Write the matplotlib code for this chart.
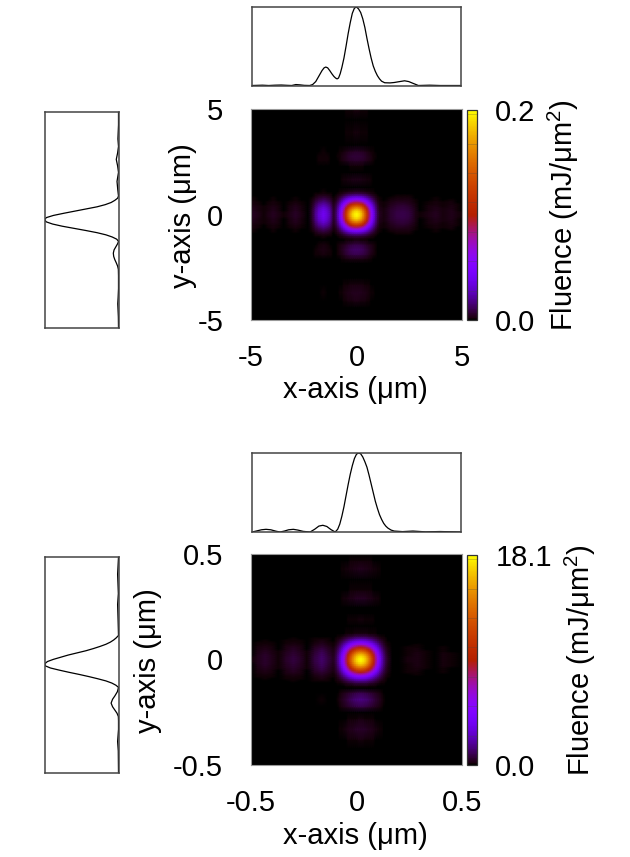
import numpy as np
import matplotlib
matplotlib.use("Agg")
import matplotlib.pyplot as plt

plt.rcParams['font.family'] = ['Liberation Sans', 'DejaVu Sans']
plt.rcParams['mathtext.fontset'] = 'custom'
plt.rcParams['mathtext.rm'] = 'Liberation Sans'
plt.rcParams['mathtext.default'] = 'regular'
W, H = 630, 857
FS_TICK = 21
FS_LAB = 21
FRAME = '#444444'

# ---- panel A (range +-5 um): line profiles
a_line_x = [-5,-4.5,-4.2,-3.9,-3.6,-3.3,-3.1,-2.9,-2.7,-2.5,-2.24,-2.1,-1.95,-1.8,-1.65,-1.55,-1.47,-1.38,-1.28,-1.18,-1.08,-1,-0.93,-0.86,-0.78,-0.7,-0.6,-0.5,-0.4,-0.3,-0.2,-0.1,0,0.1,0.2,0.3,0.4,0.5,0.6,0.7,0.8,0.9,1.0,1.1,1.2,1.35,1.6,1.8,2.0,2.3,2.5,2.7,2.96,3.5,4,5]
a_line_xv = [0,0.004,0,0.004,0.006,0.002,0,0.012,0.008,0.002,0,0.012,0.05,0.12,0.19,0.225,0.235,0.225,0.19,0.15,0.115,0.095,0.084,0.095,0.15,0.23,0.35,0.5,0.66,0.8,0.92,0.985,1.0,0.975,0.93,0.85,0.74,0.6,0.47,0.35,0.25,0.18,0.125,0.085,0.055,0.035,0.033,0.038,0.047,0.06,0.05,0.028,0,0.004,0,0]
a_line_y = [-5,-4.5,-4.2,-3.9,-3.6,-3.2,-2.6,-2.3,-2.15,-2.0,-1.85,-1.7,-1.55,-1.4,-1.25,-1.1,-1.0,-0.9,-0.8,-0.7,-0.6,-0.5,-0.4,-0.3,-0.2,-0.1,0,0.1,0.2,0.3,0.4,0.5,0.6,0.7,0.8,0.9,1.0,1.1,1.4,1.78,2.2,2.5,2.8,3.1,3.4,3.75,4.4,5]
a_line_yv = [0,0.002,0.006,0.01,0.005,0,0,0.002,0.012,0.03,0.05,0.065,0.07,0.06,0.035,0.01,0,0.025,0.085,0.17,0.29,0.44,0.6,0.76,0.89,0.975,1.0,0.975,0.88,0.74,0.59,0.44,0.29,0.18,0.1,0.05,0.012,0,0.01,0.02,0,0.012,0.03,0.012,0,0.008,0,0]

# panel A: heat-map profiles
a_heat_x = [-5,-4.9,-4.6,-4.4,-4.2,-3.95,-3.7,-3.45,-3.2,-2.9,-2.6,-2.3,-2.1,-1.95,-1.8,-1.57,-1.35,-1.2,-1.1,-1,-0.9,-0.8,-0.7,-0.6,-0.5,-0.4,-0.3,-0.2,-0.1,0,0.1,0.2,0.3,0.4,0.5,0.6,0.7,0.8,0.9,1,1.1,1.3,1.6,1.9,2.2,2.5,2.8,3,3.4,3.75,4.1,4.5,4.8,5]
a_heat_xv = [0.01,0.02,0.012,0.006,0.012,0.02,0.012,0.004,0.012,0.024,0.012,0.002,0.03,0.09,0.15,0.2,0.15,0.09,0.03,0.05,0.11,0.2,0.31,0.44,0.58,0.72,0.84,0.93,0.98,1.0,0.98,0.93,0.84,0.72,0.58,0.44,0.31,0.2,0.11,0.05,0.02,0.01,0.03,0.045,0.05,0.04,0.015,0.004,0.012,0.02,0.01,0.018,0.008,0.004]
a_heat_y = [-5,-4.4,-4.1,-3.7,-3.3,-3,-2.3,-2.1,-1.9,-1.66,-1.4,-1.2,-1.1,-1,-0.9,-0.8,-0.7,-0.6,-0.5,-0.4,-0.3,-0.2,-0.1,0,0.1,0.2,0.3,0.4,0.5,0.6,0.7,0.8,0.9,1,1.1,1.3,1.66,2,2.3,2.55,2.77,3,3.3,3.9,4.5,4.9,5]
a_heat_yv = [0,0,0.012,0.022,0.01,0,0,0.015,0.05,0.07,0.04,0.008,0.02,0.05,0.11,0.2,0.31,0.44,0.58,0.72,0.84,0.93,0.98,1.0,0.98,0.93,0.84,0.72,0.58,0.44,0.31,0.2,0.11,0.05,0.02,0.0,0.018,0.0,0.005,0.028,0.038,0.025,0.0,0.008,0.0,0.008,0.004]

# ---- panel B (range +-0.5 um): line profiles
b_line_x = [-0.5,-0.48,-0.455,-0.433,-0.41,-0.385,-0.366,-0.345,-0.325,-0.302,-0.28,-0.255,-0.222,-0.2,-0.18,-0.161,-0.142,-0.122,-0.102,-0.09,-0.08,-0.07,-0.06,-0.05,-0.04,-0.03,-0.02,-0.01,0,0.01,0.02,0.03,0.04,0.05,0.06,0.07,0.08,0.09,0.1,0.11,0.12,0.13,0.14,0.15,0.165,0.18,0.22,0.27,0.33,0.4,0.5]
b_line_xv = [0,0.012,0.028,0.034,0.028,0.01,0,0.012,0.028,0.034,0.024,0.008,0,0.035,0.075,0.085,0.07,0.03,0,0.035,0.1,0.2,0.32,0.46,0.6,0.73,0.84,0.93,0.985,1.0,0.99,0.95,0.89,0.82,0.72,0.61,0.5,0.39,0.3,0.22,0.16,0.11,0.075,0.05,0.025,0.012,0.005,0.012,0.002,0.006,0]
b_line_y = [-0.5,-0.4,-0.356,-0.3,-0.26,-0.24,-0.225,-0.21,-0.195,-0.178,-0.16,-0.145,-0.125,-0.105,-0.095,-0.085,-0.075,-0.065,-0.055,-0.045,-0.035,-0.025,-0.015,-0.005,0.005,0.015,0.025,0.035,0.045,0.055,0.065,0.075,0.085,0.095,0.105,0.115,0.125,0.136,0.2,0.28,0.33,0.42,0.5]
b_line_yv = [0,0.003,0.012,0,0,0.002,0.02,0.05,0.08,0.1,0.08,0.05,0.015,0,0.035,0.09,0.17,0.28,0.4,0.53,0.67,0.8,0.92,0.99,0.995,0.96,0.88,0.78,0.68,0.56,0.44,0.34,0.25,0.17,0.11,0.065,0.03,0,0.005,0.012,0.002,0.012,0]

# panel B: heat-map profiles
b_heat_x = [-0.5,-0.47,-0.433,-0.4,-0.37,-0.335,-0.3,-0.265,-0.235,-0.2,-0.165,-0.135,-0.11,-0.1,-0.09,-0.08,-0.07,-0.06,-0.05,-0.04,-0.03,-0.02,-0.01,0,0.01,0.02,0.03,0.04,0.05,0.06,0.07,0.08,0.09,0.1,0.11,0.12,0.13,0.14,0.15,0.17,0.2,0.24,0.286,0.33,0.37,0.41,0.45,0.5]
b_heat_xv = [0.004,0.018,0.03,0.018,0.006,0.025,0.04,0.025,0.006,0.04,0.07,0.04,0.02,0.04,0.08,0.14,0.22,0.32,0.43,0.55,0.67,0.78,0.87,0.94,0.98,1.0,0.98,0.94,0.87,0.78,0.67,0.55,0.43,0.32,0.22,0.14,0.08,0.04,0.02,0.003,0.002,0.008,0.015,0.006,0.003,0.01,0.005,0.0]
b_heat_y = [-0.5,-0.42,-0.38,-0.33,-0.28,-0.25,-0.225,-0.19,-0.155,-0.135,-0.125,-0.11,-0.1,-0.09,-0.08,-0.07,-0.06,-0.05,-0.04,-0.03,-0.02,-0.01,0,0.01,0.02,0.03,0.04,0.05,0.06,0.07,0.08,0.09,0.1,0.11,0.125,0.16,0.19,0.22,0.25,0.29,0.33,0.38,0.43,0.47,0.5]
b_heat_yv = [0,0,0.008,0.03,0.008,0.0,0.04,0.09,0.04,0.0,0.01,0.05,0.1,0.17,0.26,0.37,0.49,0.62,0.74,0.85,0.93,0.98,1.0,0.98,0.93,0.85,0.74,0.62,0.49,0.37,0.26,0.17,0.1,0.05,0.01,0.0,0.008,0.0,0.0,0.025,0.006,0.0,0.02,0.006,0.0]

a_ticks = [-5, 0, 5]
a_ticklabels = ['-5', '0', '5']
b_ticks = [-0.5, 0, 0.5]
b_ticklabels = ['-0.5', '0', '0.5']
a_max, b_max = 0.2, 18.1
a_max_label, b_max_label = '0.2', '18.1'
cbar_step_frac = 0.14


def axpx(fig, x0, y0, x1, y1):
    return fig.add_axes([x0 / W, 1 - y1 / H, (x1 - x0) / W, (y1 - y0) / H])


def frame(ax, color=FRAME, lw=1.1):
    for s in ax.spines.values():
        s.set_color(color)
        s.set_linewidth(lw)


def panel(fig, off, top_box, rng, lx, lxv, ly, lyv, hx, hxv, hy, hyv, ticks, ticklabels,
          vmax, vmax_label, ylab_x, cb_lab_x, xlab_y, ylab_yc, cb_lab_yc):
    ax = axpx(fig, 252, top_box[0], 461, top_box[1])
    ax.plot(lx, lxv, color='k', lw=0.9)
    ax.set_xlim(-rng, rng)
    ax.set_ylim(0, 1)
    ax.set_xticks([]); ax.set_yticks([])
    frame(ax)

    ax = axpx(fig, 44.5, off + 112, 118.5, off + 327.5)
    ax.plot(lyv, ly, color='k', lw=0.9)
    ax.set_xlim(1, 0)
    ax.set_ylim(-rng, rng)
    ax.set_xticks([]); ax.set_yticks([])
    frame(ax)

    ax = axpx(fig, 251, off + 109, 462, off + 320)
    z = np.outer(np.asarray(hyv), np.asarray(hxv)) * vmax
    mesh = ax.pcolormesh(hx, hy, z, shading='gouraud', cmap='gnuplot', vmin=0, vmax=vmax, rasterized=True)
    ax.set_xlim(-rng, rng)
    ax.set_ylim(-rng, rng)
    ax.set_xticks(ticks, ticklabels, fontsize=FS_TICK)
    ax.set_yticks(ticks, ticklabels, fontsize=FS_TICK)
    ax.tick_params(axis='y', length=0, pad=20)
    ax.tick_params(axis='x', length=0, pad=17)
    frame(ax, '#999999', 0.8)
    fig.text(355 / W, 1 - xlab_y / H, 'x-axis (\u03bcm)', fontsize=FS_LAB, ha='center', va='center')
    fig.text(ylab_x / W, 1 - ylab_yc / H, 'y-axis (\u03bcm)', fontsize=FS_LAB, rotation=90, ha='center', va='center')

    cax = axpx(fig, 466.8, off + 110, 477.2, off + 320)
    fig.colorbar(mesh, cax=cax, ticks=[0, vmax])
    cax.set_yticklabels(['0.0', vmax_label], fontsize=FS_TICK)
    cax.tick_params(length=0, pad=13)
    for f in np.arange(cbar_step_frac, 1, cbar_step_frac):
        cax.axhline(f * vmax, color='#444444', lw=0.5, alpha=0.35)
    frame(cax, '#333333', 0.9)
    fig.text(cb_lab_x / W, 1 - cb_lab_yc / H, 'Fluence (mJ/\u03bcm$^{2}$)', fontsize=FS_LAB, rotation=90,
             ha='center', va='center')


fig = plt.figure(figsize=(W / 100, H / 100), dpi=100)
panel(fig, 0, (7, 85.5), 5, a_line_x, a_line_xv, a_line_y, a_line_yv, a_heat_x, a_heat_xv, a_heat_y, a_heat_yv,
      a_ticks, a_ticklabels, a_max, a_max_label, 183, 563, 390, 216, 215)
panel(fig, 445, (453, 532), 0.5, b_line_x, b_line_xv, b_line_y, b_line_yv, b_heat_x, b_heat_xv, b_heat_y, b_heat_yv,
      b_ticks, b_ticklabels, b_max, b_max_label, 148, 580, 836, 661, 660)
fig.savefig('out.png', dpi=100)
